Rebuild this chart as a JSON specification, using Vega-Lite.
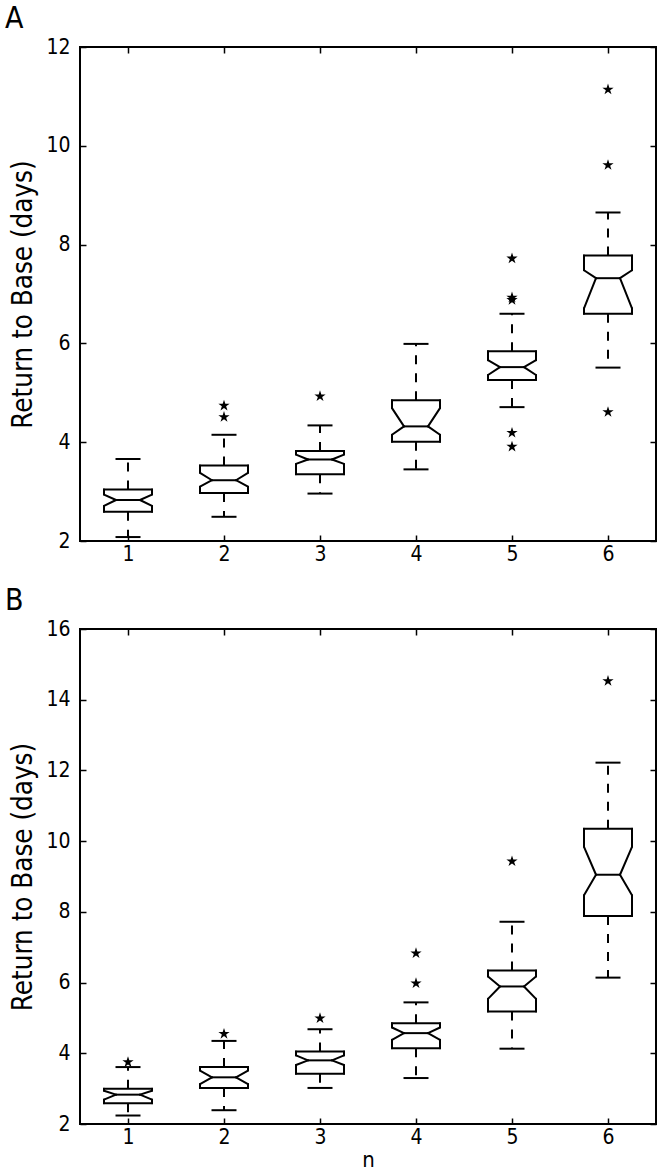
{
  "$schema": "https://vega.github.io/schema/vega-lite/v6.json",
  "padding": {"left": 3, "right": 5, "top": 3, "bottom": 0},
  "background": "white",
  "config": {
    "font": "DejaVu Sans Condensed, DejaVu Sans",
    "view": {"stroke": "black", "strokeWidth": 2},
    "axis": {"domain": false, "grid": false, "tickColor": "black", "tickWidth": 1.5, "tickSize": -6, "labelColor": "black", "labelFontSize": 21, "titleColor": "black", "titleFontWeight": "normal", "labelFlush": false, "labelOverlap": false},
    "title": {"fontSize": 30, "fontWeight": "normal", "color": "black", "anchor": "start", "frame": "bounds"}
  },
  "datasets": {
    "boxesA": [
      {"n": 1, "wlo": 2.08, "q1": 2.59, "nlo": 2.71, "med": 2.83, "nhi": 2.94, "q3": 3.04, "whi": 3.66},
      {"n": 2, "wlo": 2.49, "q1": 2.97, "nlo": 3.10, "med": 3.23, "nhi": 3.38, "q3": 3.53, "whi": 4.15},
      {"n": 3, "wlo": 2.96, "q1": 3.35, "nlo": 3.56, "med": 3.65, "nhi": 3.75, "q3": 3.82, "whi": 4.34},
      {"n": 4, "wlo": 3.45, "q1": 4.01, "nlo": 4.15, "med": 4.32, "nhi": 4.69, "q3": 4.85, "whi": 5.99},
      {"n": 5, "wlo": 4.71, "q1": 5.26, "nlo": 5.36, "med": 5.52, "nhi": 5.66, "q3": 5.84, "whi": 6.60},
      {"n": 6, "wlo": 5.51, "q1": 6.60, "nlo": 6.71, "med": 7.32, "nhi": 7.48, "q3": 7.78, "whi": 8.65}
    ],
    "outA": [
      {"n": 2, "v": 4.51}, {"n": 2, "v": 4.74},
      {"n": 3, "v": 4.93},
      {"n": 5, "v": 3.91}, {"n": 5, "v": 4.19}, {"n": 5, "v": 6.88}, {"n": 5, "v": 6.93}, {"n": 5, "v": 7.72},
      {"n": 6, "v": 4.61}, {"n": 6, "v": 9.61}, {"n": 6, "v": 11.14}
    ],
    "boxesB": [
      {"n": 1, "wlo": 2.24, "q1": 2.59, "nlo": 2.69, "med": 2.83, "nhi": 2.94, "q3": 3.00, "whi": 3.61},
      {"n": 2, "wlo": 2.39, "q1": 3.02, "nlo": 3.13, "med": 3.32, "nhi": 3.51, "q3": 3.61, "whi": 4.35},
      {"n": 3, "wlo": 3.02, "q1": 3.42, "nlo": 3.67, "med": 3.80, "nhi": 3.94, "q3": 4.05, "whi": 4.68},
      {"n": 4, "wlo": 3.30, "q1": 4.14, "nlo": 4.38, "med": 4.57, "nhi": 4.73, "q3": 4.85, "whi": 5.44},
      {"n": 5, "wlo": 4.13, "q1": 5.18, "nlo": 5.54, "med": 5.89, "nhi": 6.17, "q3": 6.34, "whi": 7.72},
      {"n": 6, "wlo": 6.14, "q1": 7.88, "nlo": 8.47, "med": 9.05, "nhi": 9.84, "q3": 10.35, "whi": 12.22}
    ],
    "outB": [
      {"n": 1, "v": 3.75},
      {"n": 2, "v": 4.55},
      {"n": 3, "v": 4.99},
      {"n": 4, "v": 5.98}, {"n": 4, "v": 6.83},
      {"n": 5, "v": 9.43},
      {"n": 6, "v": 14.53}
    ]
  },
  "vconcat": [
    {
      "width": 576, "height": 494,
      "title": {"text": "A", "offset": 2, "dx": -5},
      "data": {"name": "boxesA"},
      "resolve": {"axis": {"x": "independent", "y": "independent"}},
      "layer": [
        {"mark": {"type": "rule", "color": "black", "strokeWidth": 2, "strokeDash": [9, 9]},
         "encoding": {"x": {"field": "n", "type": "quantitative", "scale": {"domain": [0.5, 6.5], "nice": false, "zero": false}, "axis": null},
                      "y": {"field": "q3", "type": "quantitative", "scale": {"domain": [2, 12], "nice": false, "zero": false}, "axis": null},
                      "y2": {"field": "whi"}}},
        {"mark": {"type": "rule", "color": "black", "strokeWidth": 2, "strokeDash": [9, 9]},
         "encoding": {"x": {"field": "n", "type": "quantitative", "scale": {"domain": [0.5, 6.5], "nice": false, "zero": false}, "axis": null},
                      "y": {"field": "q1", "type": "quantitative", "scale": {"domain": [2, 12], "nice": false, "zero": false}, "axis": null},
                      "y2": {"field": "wlo"}}},
        {"transform": [{"fold": ["wlo", "whi"], "as": ["k", "v"]}],
         "mark": {"type": "tick", "orient": "horizontal", "size": 25, "thickness": 2, "color": "black", "opacity": 1},
         "encoding": {"x": {"field": "n", "type": "quantitative", "scale": {"domain": [0.5, 6.5], "nice": false, "zero": false}, "axis": {"orient": "top", "values": [1, 2, 3, 4, 5, 6], "labels": false, "title": null}},
                      "y": {"field": "v", "type": "quantitative", "scale": {"domain": [2, 12], "nice": false, "zero": false}, "axis": {"orient": "right", "values": [2, 4, 6, 8, 10, 12], "labels": false, "title": null}}}},
        {"transform": [{"fold": ["q1", "q3"], "as": ["k", "v"]}],
         "mark": {"type": "tick", "orient": "horizontal", "size": 50, "thickness": 2, "color": "black", "opacity": 1},
         "encoding": {"x": {"field": "n", "type": "quantitative", "scale": {"domain": [0.5, 6.5], "nice": false, "zero": false}, "axis": null},
                      "y": {"field": "v", "type": "quantitative", "scale": {"domain": [2, 12], "nice": false, "zero": false}, "axis": null}}},
        {"mark": {"type": "tick", "orient": "horizontal", "size": 25, "thickness": 2, "color": "black", "opacity": 1},
         "encoding": {"x": {"field": "n", "type": "quantitative", "scale": {"domain": [0.5, 6.5], "nice": false, "zero": false}, "axis": null},
                      "y": {"field": "med", "type": "quantitative", "scale": {"domain": [2, 12], "nice": false, "zero": false}, "axis": null}}},
        {"mark": {"type": "rule", "color": "black", "strokeWidth": 2, "strokeCap": "round", "xOffset": -24},
         "encoding": {"x": {"field": "n", "type": "quantitative", "scale": {"domain": [0.5, 6.5], "nice": false, "zero": false}, "axis": null},
                      "y": {"field": "q3", "type": "quantitative", "scale": {"domain": [2, 12], "nice": false, "zero": false}, "axis": null},
                      "y2": {"field": "nhi"}}},
        {"mark": {"type": "rule", "color": "black", "strokeWidth": 2, "strokeCap": "round", "xOffset": -24, "x2Offset": -12},
         "encoding": {"x": {"field": "n", "type": "quantitative", "scale": {"domain": [0.5, 6.5], "nice": false, "zero": false}, "axis": null},
                      "x2": {"field": "n"},
                      "y": {"field": "nhi", "type": "quantitative", "scale": {"domain": [2, 12], "nice": false, "zero": false}, "axis": null},
                      "y2": {"field": "med"}}},
        {"mark": {"type": "rule", "color": "black", "strokeWidth": 2, "strokeCap": "round", "xOffset": -12, "x2Offset": -24},
         "encoding": {"x": {"field": "n", "type": "quantitative", "scale": {"domain": [0.5, 6.5], "nice": false, "zero": false}, "axis": null},
                      "x2": {"field": "n"},
                      "y": {"field": "med", "type": "quantitative", "scale": {"domain": [2, 12], "nice": false, "zero": false}, "axis": null},
                      "y2": {"field": "nlo"}}},
        {"mark": {"type": "rule", "color": "black", "strokeWidth": 2, "strokeCap": "round", "xOffset": -24},
         "encoding": {"x": {"field": "n", "type": "quantitative", "scale": {"domain": [0.5, 6.5], "nice": false, "zero": false}, "axis": null},
                      "y": {"field": "nlo", "type": "quantitative", "scale": {"domain": [2, 12], "nice": false, "zero": false}, "axis": null},
                      "y2": {"field": "q1"}}},
        {"mark": {"type": "rule", "color": "black", "strokeWidth": 2, "strokeCap": "round", "xOffset": 24},
         "encoding": {"x": {"field": "n", "type": "quantitative", "scale": {"domain": [0.5, 6.5], "nice": false, "zero": false}, "axis": null},
                      "y": {"field": "q3", "type": "quantitative", "scale": {"domain": [2, 12], "nice": false, "zero": false}, "axis": null},
                      "y2": {"field": "nhi"}}},
        {"mark": {"type": "rule", "color": "black", "strokeWidth": 2, "strokeCap": "round", "xOffset": 24, "x2Offset": 12},
         "encoding": {"x": {"field": "n", "type": "quantitative", "scale": {"domain": [0.5, 6.5], "nice": false, "zero": false}, "axis": null},
                      "x2": {"field": "n"},
                      "y": {"field": "nhi", "type": "quantitative", "scale": {"domain": [2, 12], "nice": false, "zero": false}, "axis": null},
                      "y2": {"field": "med"}}},
        {"mark": {"type": "rule", "color": "black", "strokeWidth": 2, "strokeCap": "round", "xOffset": 12, "x2Offset": 24},
         "encoding": {"x": {"field": "n", "type": "quantitative", "scale": {"domain": [0.5, 6.5], "nice": false, "zero": false}, "axis": null},
                      "x2": {"field": "n"},
                      "y": {"field": "med", "type": "quantitative", "scale": {"domain": [2, 12], "nice": false, "zero": false}, "axis": null},
                      "y2": {"field": "nlo"}}},
        {"mark": {"type": "rule", "color": "black", "strokeWidth": 2, "strokeCap": "round", "xOffset": 24},
         "encoding": {"x": {"field": "n", "type": "quantitative", "scale": {"domain": [0.5, 6.5], "nice": false, "zero": false}, "axis": null},
                      "y": {"field": "nlo", "type": "quantitative", "scale": {"domain": [2, 12], "nice": false, "zero": false}, "axis": null},
                      "y2": {"field": "q1"}}},
        {"data": {"name": "outA"},
         "mark": {"type": "point", "shape": "M0,-1L0.2245,-0.309L0.951,-0.309L0.363,0.118L0.588,0.809L0,0.382L-0.588,0.809L-0.363,0.118L-0.951,-0.309L-0.2245,-0.309Z", "filled": true, "color": "black", "opacity": 1, "size": 140},
         "encoding": {"x": {"field": "n", "type": "quantitative", "scale": {"domain": [0.5, 6.5], "nice": false, "zero": false}, "axis": {"orient": "bottom", "values": [1, 2, 3, 4, 5, 6], "format": "d", "labelPadding": 8, "title": null}},
                      "y": {"field": "v", "type": "quantitative", "scale": {"domain": [2, 12], "nice": false, "zero": false}, "axis": {"orient": "left", "values": [2, 4, 6, 8, 10, 12], "format": "d", "labelPadding": 16, "title": "Return to Base (days)", "titleFontSize": 27.5, "titlePadding": 8}}}}
      ]
    },
    {
      "width": 576, "height": 495,
      "title": {"text": "B", "offset": 2, "dx": -5},
      "data": {"name": "boxesB"},
      "resolve": {"axis": {"x": "independent", "y": "independent"}},
      "layer": [
        {"mark": {"type": "rule", "color": "black", "strokeWidth": 2, "strokeDash": [9, 9]},
         "encoding": {"x": {"field": "n", "type": "quantitative", "scale": {"domain": [0.5, 6.5], "nice": false, "zero": false}, "axis": null},
                      "y": {"field": "q3", "type": "quantitative", "scale": {"domain": [2, 16], "nice": false, "zero": false}, "axis": null},
                      "y2": {"field": "whi"}}},
        {"mark": {"type": "rule", "color": "black", "strokeWidth": 2, "strokeDash": [9, 9]},
         "encoding": {"x": {"field": "n", "type": "quantitative", "scale": {"domain": [0.5, 6.5], "nice": false, "zero": false}, "axis": null},
                      "y": {"field": "q1", "type": "quantitative", "scale": {"domain": [2, 16], "nice": false, "zero": false}, "axis": null},
                      "y2": {"field": "wlo"}}},
        {"transform": [{"fold": ["wlo", "whi"], "as": ["k", "v"]}],
         "mark": {"type": "tick", "orient": "horizontal", "size": 25, "thickness": 2, "color": "black", "opacity": 1},
         "encoding": {"x": {"field": "n", "type": "quantitative", "scale": {"domain": [0.5, 6.5], "nice": false, "zero": false}, "axis": {"orient": "top", "values": [1, 2, 3, 4, 5, 6], "labels": false, "title": null}},
                      "y": {"field": "v", "type": "quantitative", "scale": {"domain": [2, 16], "nice": false, "zero": false}, "axis": {"orient": "right", "values": [2, 4, 6, 8, 10, 12, 14, 16], "labels": false, "title": null}}}},
        {"transform": [{"fold": ["q1", "q3"], "as": ["k", "v"]}],
         "mark": {"type": "tick", "orient": "horizontal", "size": 50, "thickness": 2, "color": "black", "opacity": 1},
         "encoding": {"x": {"field": "n", "type": "quantitative", "scale": {"domain": [0.5, 6.5], "nice": false, "zero": false}, "axis": null},
                      "y": {"field": "v", "type": "quantitative", "scale": {"domain": [2, 16], "nice": false, "zero": false}, "axis": null}}},
        {"mark": {"type": "tick", "orient": "horizontal", "size": 25, "thickness": 2, "color": "black", "opacity": 1},
         "encoding": {"x": {"field": "n", "type": "quantitative", "scale": {"domain": [0.5, 6.5], "nice": false, "zero": false}, "axis": null},
                      "y": {"field": "med", "type": "quantitative", "scale": {"domain": [2, 16], "nice": false, "zero": false}, "axis": null}}},
        {"mark": {"type": "rule", "color": "black", "strokeWidth": 2, "strokeCap": "round", "xOffset": -24},
         "encoding": {"x": {"field": "n", "type": "quantitative", "scale": {"domain": [0.5, 6.5], "nice": false, "zero": false}, "axis": null},
                      "y": {"field": "q3", "type": "quantitative", "scale": {"domain": [2, 16], "nice": false, "zero": false}, "axis": null},
                      "y2": {"field": "nhi"}}},
        {"mark": {"type": "rule", "color": "black", "strokeWidth": 2, "strokeCap": "round", "xOffset": -24, "x2Offset": -12},
         "encoding": {"x": {"field": "n", "type": "quantitative", "scale": {"domain": [0.5, 6.5], "nice": false, "zero": false}, "axis": null},
                      "x2": {"field": "n"},
                      "y": {"field": "nhi", "type": "quantitative", "scale": {"domain": [2, 16], "nice": false, "zero": false}, "axis": null},
                      "y2": {"field": "med"}}},
        {"mark": {"type": "rule", "color": "black", "strokeWidth": 2, "strokeCap": "round", "xOffset": -12, "x2Offset": -24},
         "encoding": {"x": {"field": "n", "type": "quantitative", "scale": {"domain": [0.5, 6.5], "nice": false, "zero": false}, "axis": null},
                      "x2": {"field": "n"},
                      "y": {"field": "med", "type": "quantitative", "scale": {"domain": [2, 16], "nice": false, "zero": false}, "axis": null},
                      "y2": {"field": "nlo"}}},
        {"mark": {"type": "rule", "color": "black", "strokeWidth": 2, "strokeCap": "round", "xOffset": -24},
         "encoding": {"x": {"field": "n", "type": "quantitative", "scale": {"domain": [0.5, 6.5], "nice": false, "zero": false}, "axis": null},
                      "y": {"field": "nlo", "type": "quantitative", "scale": {"domain": [2, 16], "nice": false, "zero": false}, "axis": null},
                      "y2": {"field": "q1"}}},
        {"mark": {"type": "rule", "color": "black", "strokeWidth": 2, "strokeCap": "round", "xOffset": 24},
         "encoding": {"x": {"field": "n", "type": "quantitative", "scale": {"domain": [0.5, 6.5], "nice": false, "zero": false}, "axis": null},
                      "y": {"field": "q3", "type": "quantitative", "scale": {"domain": [2, 16], "nice": false, "zero": false}, "axis": null},
                      "y2": {"field": "nhi"}}},
        {"mark": {"type": "rule", "color": "black", "strokeWidth": 2, "strokeCap": "round", "xOffset": 24, "x2Offset": 12},
         "encoding": {"x": {"field": "n", "type": "quantitative", "scale": {"domain": [0.5, 6.5], "nice": false, "zero": false}, "axis": null},
                      "x2": {"field": "n"},
                      "y": {"field": "nhi", "type": "quantitative", "scale": {"domain": [2, 16], "nice": false, "zero": false}, "axis": null},
                      "y2": {"field": "med"}}},
        {"mark": {"type": "rule", "color": "black", "strokeWidth": 2, "strokeCap": "round", "xOffset": 12, "x2Offset": 24},
         "encoding": {"x": {"field": "n", "type": "quantitative", "scale": {"domain": [0.5, 6.5], "nice": false, "zero": false}, "axis": null},
                      "x2": {"field": "n"},
                      "y": {"field": "med", "type": "quantitative", "scale": {"domain": [2, 16], "nice": false, "zero": false}, "axis": null},
                      "y2": {"field": "nlo"}}},
        {"mark": {"type": "rule", "color": "black", "strokeWidth": 2, "strokeCap": "round", "xOffset": 24},
         "encoding": {"x": {"field": "n", "type": "quantitative", "scale": {"domain": [0.5, 6.5], "nice": false, "zero": false}, "axis": null},
                      "y": {"field": "nlo", "type": "quantitative", "scale": {"domain": [2, 16], "nice": false, "zero": false}, "axis": null},
                      "y2": {"field": "q1"}}},
        {"data": {"name": "outB"},
         "mark": {"type": "point", "shape": "M0,-1L0.2245,-0.309L0.951,-0.309L0.363,0.118L0.588,0.809L0,0.382L-0.588,0.809L-0.363,0.118L-0.951,-0.309L-0.2245,-0.309Z", "filled": true, "color": "black", "opacity": 1, "size": 140},
         "encoding": {"x": {"field": "n", "type": "quantitative", "scale": {"domain": [0.5, 6.5], "nice": false, "zero": false}, "axis": {"orient": "bottom", "values": [1, 2, 3, 4, 5, 6], "format": "d", "labelPadding": 8, "title": "n", "titleFontSize": 22, "titlePadding": 2}},
                      "y": {"field": "v", "type": "quantitative", "scale": {"domain": [2, 16], "nice": false, "zero": false}, "axis": {"orient": "left", "values": [2, 4, 6, 8, 10, 12, 14, 16], "format": "d", "labelPadding": 16, "title": "Return to Base (days)", "titleFontSize": 27.5, "titlePadding": 8}}}}
      ]
    }
  ],
  "spacing": 20
}
